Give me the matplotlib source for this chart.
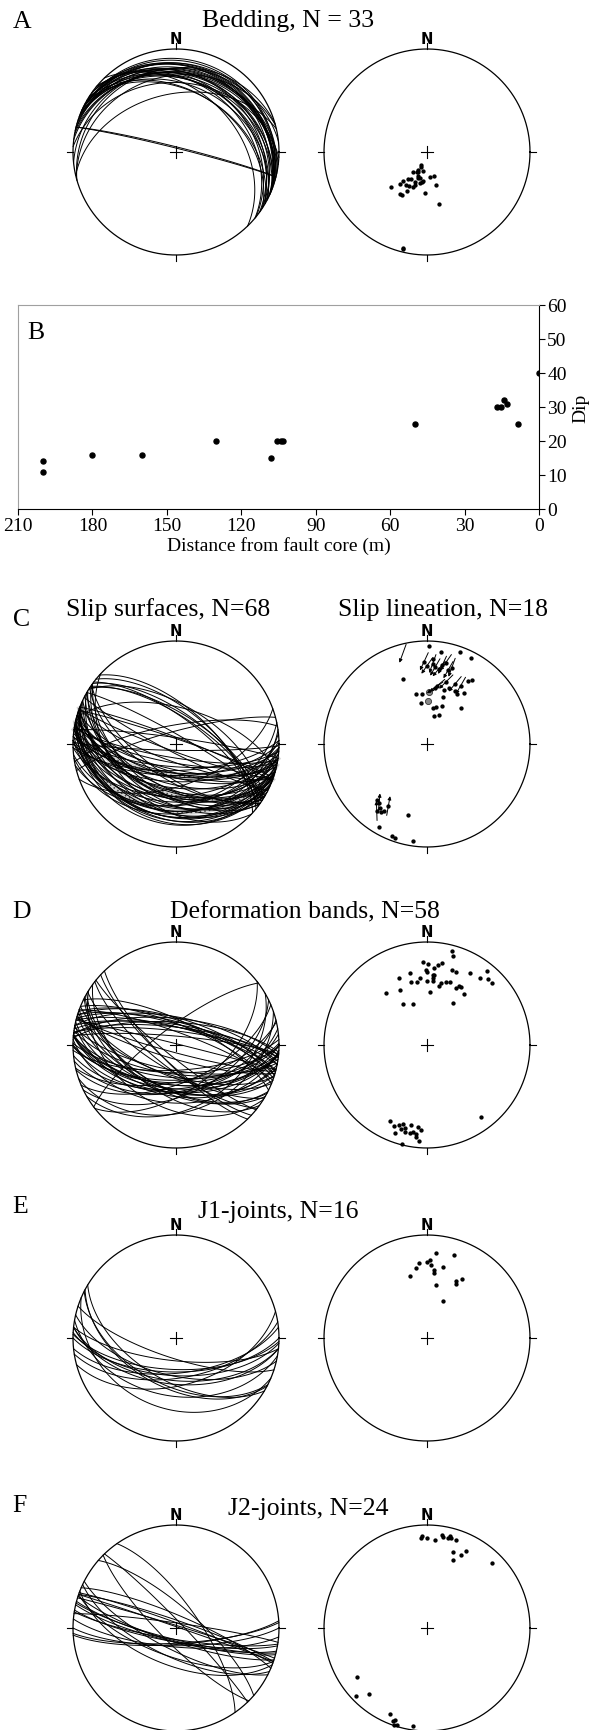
import numpy as np
import matplotlib
matplotlib.use("Agg")
import matplotlib.pyplot as plt

W, H = 599, 1731
plt.rcParams["font.family"] = ["Liberation Serif", "DejaVu Serif"]

# ---- A: bedding planes (dip direction / dip) ----
A_dipdir = [24, 23, 25, 35, 21, 354, 344, 7, 13, 22, 36, 39, 32, 28, 22, 345, 46,
            33, 30, 3, 347, 14, 14, 26, 18, 30, 16, 10, 20, 27, 24, 12, 40]
A_dip = [11, 13, 16, 19, 20, 20, 20, 23, 25, 26, 26, 30, 31, 31, 30, 27, 40,
         40, 40, 33, 43, 86, 87, 18, 22, 25, 21, 24, 28, 35, 17, 15, 33]

# ---- B: dip vs distance from fault core ----
B_dist = [200, 200, 180, 160, 130, 108, 105.5, 104, 103, 50, 17, 15.5, 14, 13, 8.5, 0]
B_dipval = [11, 14, 16, 16, 20, 15, 20, 20, 20, 25, 30, 30, 32, 31, 25, 40]
B_xticks = [210, 180, 150, 120, 90, 60, 30, 0]
B_yticks = [0, 10, 20, 30, 40, 50, 60]

# ---- C: slip surfaces (planes) ----
C_dipdir = [181, 189, 200, 207, 184, 160, 215, 213, 211, 216, 208, 201, 197, 182, 182,
            168, 172, 174, 190, 194, 202, 199, 223, 194, 202, 178, 180, 184, 186, 189,
            191, 193, 196, 198, 188, 190, 197, 205, 210, 42, 39, 36, 37, 34, 32,
            33, 15, 30, 21, 19, 8,
            185, 192, 198, 205, 210, 188, 195, 200, 178, 215, 190, 200, 182, 350, 345, 196, 204]
C_dip = [85, 79, 84, 83, 72, 57, 65, 62, 48, 51, 49, 49, 46, 43, 35,
         41, 33, 40, 30, 30, 34, 40, 40, 23, 25, 69, 65, 67, 64, 63,
         67, 70, 64, 68, 46, 48, 53, 55, 55, 62, 63, 66, 70, 69, 60,
         67, 61, 83, 85, 86, 85,
         35, 38, 30, 42, 36, 55, 58, 52, 48, 45, 75, 76, 60, 75, 80, 27, 28]
C_gray_dipdir = [188, 192, 200]
C_gray_dip = [65, 35, 50]

# ---- C: slip lineation net (poles, mean poles, lineations) ----
C_pole_trend = [1, 9, 20, 27, 4, 340, 35, 33, 31, 36, 28, 21, 17, 348, 352,
                354, 10, 14, 22, 19, 43, 14, 22, 358, 0, 4, 6, 9, 11, 13,
                16, 18, 8, 10, 17, 25, 30, 222, 219, 216, 217, 214, 212, 213, 195,
                210, 201, 199, 188]
C_pole_plunge = [5, 11, 6, 7, 18, 33, 25, 28, 43, 39, 41, 41, 44, 49, 57,
                 50, 61, 60, 57, 50, 50, 67, 65, 21, 25, 23, 26, 27, 23, 20,
                 26, 23, 44, 42, 37, 36, 35, 28, 27, 24, 20, 21, 30, 24, 29,
                 8, 5, 4, 5]
C_mean_trend = [2, 2]
C_mean_plunge = [48, 56]
C_lin_trend = [345, 358, 0, 4, 6, 9, 11, 13, 16, 18, 8, 10, 17, 25, 30, 219, 217, 212]
C_lin_plunge = [10, 21, 25, 23, 26, 27, 23, 20, 26, 23, 44, 42, 37, 36, 35, 27, 20, 30]
C_lin_sense = [200, 205, 215, 200, 210, 220, 205, 215, 210, 200, 235, 230, 225, 220, 210, 5, 358, 10]

# ---- D: deformation bands ----
D_dipdir = [195, 196, 177, 181, 185, 188, 179, 180, 185, 167, 157, 166, 171, 180, 185,
            185, 191, 183, 154, 142, 150, 161, 198, 202, 197, 200, 207, 208, 210, 216,
            212, 211, 218, 219, 223, 226, 26, 22, 19, 17, 17, 14, 11, 11, 7,
            6, 4, 7, 5, 14, 323, 190, 186, 174, 193, 15, 9, 20]
D_dip = [84, 79, 70, 68, 64, 67, 62, 60, 58, 61, 60, 53, 52, 52, 52,
         55, 49, 43, 50, 54, 38, 35, 66, 65, 54, 55, 52, 55, 55, 51,
         40, 70, 72, 81, 76, 76, 71, 74, 71, 69, 74, 76, 68, 76, 76,
         69, 72, 79, 83, 89, 76, 70, 58, 55, 52, 72, 74, 80]

# ---- E: J1 joints ----
E_dipdir = [186, 198, 174, 171, 182, 183, 186, 186, 193, 165, 207, 208, 211, 190, 203, 180]
E_dip = [72, 74, 62, 58, 65, 60, 56, 53, 60, 52, 52, 50, 56, 43, 32, 63]

# ---- F: J2 joints ----
F_dipdir = [176, 177, 185, 189, 193, 194, 198, 199, 205, 207, 201, 225,
            55, 46, 41, 23, 19, 19, 17, 8, 20, 180, 195, 190]
F_dip = [77, 78, 75, 81, 79, 81, 79, 67, 67, 73, 60, 78,
         72, 85, 74, 80, 84, 89, 88, 86, 86, 76, 80, 79]


# equal-area, lower hemisphere
def project(trend, plunge):
    tr, pl = np.radians(trend), np.radians(plunge)
    e = np.sin(tr) * np.cos(pl)
    n = np.cos(tr) * np.cos(pl)
    f = 1.0 / np.sqrt(1.0 + np.sin(pl))
    return e * f, n * f


def poles(dipdir, dip):
    return project(np.asarray(dipdir) + 180.0, 90.0 - np.asarray(dip))


def great_circle(dd, dip, n=121):
    ddr, dr = np.radians(dd), np.radians(dip)
    st = ddr - np.pi / 2
    s = np.array([np.sin(st), np.cos(st), 0.0])
    d = np.array([np.sin(ddr) * np.cos(dr), np.cos(ddr) * np.cos(dr), np.sin(dr)])
    t = np.linspace(0, np.pi, n)
    v = np.outer(np.cos(t), s) + np.outer(np.sin(t), d)
    f = 1.0 / np.sqrt(1.0 + np.clip(v[:, 2], 0, 1))
    return v[:, 0] * f, v[:, 1] * f


fig = plt.figure(figsize=(W / 100, H / 100), dpi=100)
R = 103
EXT = 1.2


def net(cx, cy):
    half = R * EXT
    ax = fig.add_axes([(cx - half) / W, 1 - (cy + half) / H, 2 * half / W, 2 * half / H])
    ax.set_xlim(-EXT, EXT)
    ax.set_ylim(-EXT, EXT)
    ax.axis("off")
    t = np.linspace(0, 2 * np.pi, 400)
    ax.plot(np.cos(t), np.sin(t), color="black", lw=0.9)
    for a in (0, 90, 180, 270):
        ar = np.radians(a)
        ax.plot([np.cos(ar), 1.055 * np.cos(ar)], [np.sin(ar), 1.055 * np.sin(ar)],
                color="black", lw=0.8)
    c = 0.058
    ax.plot([-c, c], [0, 0], color="black", lw=0.8)
    ax.plot([0, 0], [-c, c], color="black", lw=0.8)
    ax.text(0, 1.1, "N", ha="center", va="center", fontsize=10.5, fontweight="heavy",
            family="DejaVu Sans")
    return ax


def plane_net(cx, cy, dipdir, dip, lw=0.7):
    ax = net(cx, cy)
    for dd, dp in zip(dipdir, dip):
        x, y = great_circle(dd, dp)
        ax.plot(x, y, color="black", lw=lw)
    return ax


def pole_net(cx, cy, dipdir, dip):
    ax = net(cx, cy)
    x, y = poles(dipdir, dip)
    ax.plot(x, y, "o", color="black", ms=2.1, mec="black")
    return ax


LX, RX = 176, 427


def label(x, y, s):
    fig.text(x / W, 1 - y / H, s, fontsize=18.5, ha="center", va="baseline")


# A
plane_net(LX, 153, A_dipdir, A_dip)
pole_net(RX, 153, A_dipdir, A_dip)
label(22, 28, "A")
label(288, 27, "Bedding, N = 33")

# B
axb = fig.add_axes([18 / W, 1 - 510 / H, (539 - 18) / W, (510 - 306) / H])
axb.plot(B_dist, B_dipval, "o", color="black", ms=3.6)
axb.set_xlim(210, 0)
axb.set_ylim(0, 60)
axb.set_xticks(B_xticks)
axb.set_yticks(B_yticks)
axb.yaxis.tick_right()
axb.yaxis.set_label_position("right")
axb.spines["top"].set_color("#a0a0a0")
axb.spines["left"].set_color("#a0a0a0")
for sp in axb.spines.values():
    sp.set_linewidth(0.8)
axb.tick_params(direction="out", length=4, width=0.8, labelsize=14, pad=2)
axb.set_xlabel("Distance from fault core (m)", fontsize=14, labelpad=1)
axb.set_ylabel("Dip", fontsize=14, labelpad=4)
axb.text(0.035, 0.87, "B", transform=axb.transAxes, fontsize=18.5, ha="center", va="center")

# C
axc = plane_net(LX, 745, C_dipdir, C_dip)
for dd, dp in zip(C_gray_dipdir, C_gray_dip):
    x, y = great_circle(dd, dp)
    axc.plot(x, y, color="#d4d4d4", lw=3.2, zorder=1)
    axc.plot(x, y, color="#444444", lw=1.1, ls=(0, (1, 2)), zorder=1.5)
axc2 = net(RX, 745)
px, py = project(C_pole_trend, C_pole_plunge)
axc2.plot(px, py, "o", color="black", ms=2.1)
mx, my = project(C_mean_trend, C_mean_plunge)
axc2.plot(mx, my, "o", color="#888888", mec="#333333", ms=4.4, mew=0.6)
lx, ly = project(C_lin_trend, C_lin_plunge)
L = 0.19
for x0, y0, az in zip(lx, ly, C_lin_sense):
    dx, dy = L * np.sin(np.radians(az)), L * np.cos(np.radians(az))
    axc2.annotate("", xy=(x0 + dx / 2, y0 + dy / 2), xytext=(x0 - dx / 2, y0 - dy / 2),
                  arrowprops=dict(arrowstyle="-|>", lw=0.7, color="black",
                                  mutation_scale=5, shrinkA=0, shrinkB=0))
label(22, 626, "C")
label(168, 616, "Slip surfaces, N=68")
label(443, 616, "Slip lineation, N=18")

# D
plane_net(LX, 1046, D_dipdir, D_dip)
pole_net(RX, 1046, D_dipdir, D_dip)
label(22, 918, "D")
label(305, 918, "Deformation bands, N=58")

# E
plane_net(LX, 1339, E_dipdir, E_dip)
pole_net(RX, 1339, E_dipdir, E_dip)
label(20, 1213, "E")
label(278, 1218, "J1-joints, N=16")

# F
plane_net(LX, 1629, F_dipdir, F_dip)
pole_net(RX, 1629, F_dipdir, F_dip)
label(19, 1512, "F")
label(308, 1515, "J2-joints, N=24")

fig.savefig("out.png", dpi=100)
